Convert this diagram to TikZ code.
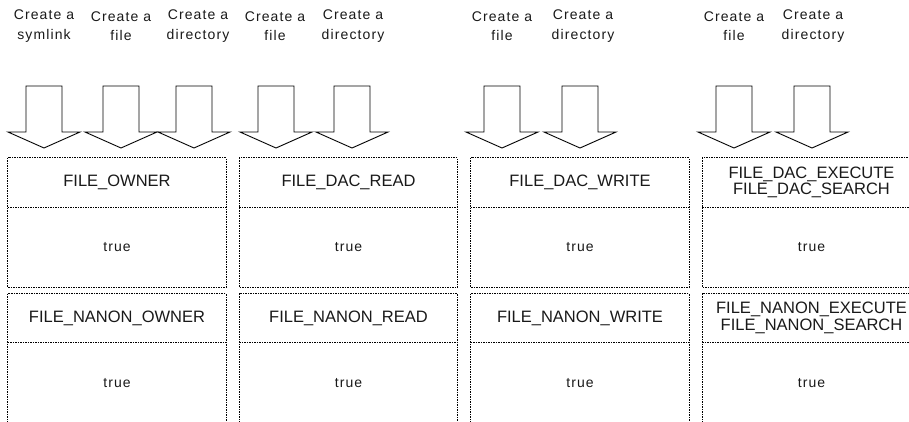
\documentclass[tikz,border=0pt]{standalone}
\usepackage{fontspec}
\setmainfont{Liberation Sans}
\newfontfamily\lblfont{Liberation Sans}[LetterSpace=8]
\begin{document}
\begin{tikzpicture}[x=1pt,y=-1pt,
  lbl/.style={align=center,font=\lblfont\fontsize{14}{19.5}\selectfont,inner sep=0pt,text=black!90},
  dotline/.style={dash pattern=on 1.5pt off 1pt,line width=0.8pt},
  hdr/.style={minimum width=218pt,inner sep=0pt,align=center,text=black!90,font=\fontsize{16.5}{16.5}\selectfont},
  bodybox/.style={hdr,font=\lblfont\fontsize{14}{16}\selectfont},
  barrow/.pic={\draw[line width=0.9pt,line join=miter] (-18,0) -- (18,0) -- (18,46) -- (36,46) -- (0,62) -- (-36,46) -- (-18,46) -- cycle;}]
\useasboundingbox (0,0) rectangle (909,421);
\clip (0,0) rectangle (909,421);
% labels
\node[lbl] (l1) at (44,26) {Create a\\symlink};
\node[lbl] (l2) at (121,26) {Create a\\file};
\node[lbl] (l3) at (198,26) {Create a\\directory};
\node[lbl] (l4) at (275,26) {Create a\\file};
\node[lbl] (l5) at (353,26) {Create a\\directory};
\node[lbl] (l6) at (502,26) {Create a\\file};
\node[lbl] (l7) at (583,26) {Create a\\directory};
\node[lbl] (l8) at (734,26) {Create a\\file};
\node[lbl] (l9) at (813,26) {Create a\\directory};
% block arrows
\foreach \ax in {44,121,194,276,352,502,580,734,812}
  \pic at (\ax,86) {barrow};
% column 1
\node[hdr,minimum height=49pt] (h1) at (117,182.5) {FILE\_OWNER};
\node[bodybox,minimum height=80pt] (b1) at (117,247) {true};
\node[hdr,minimum height=48pt] (n1) at (117,318) {FILE\_NANON\_OWNER};
\node[bodybox,minimum height=82pt] (c1) at (117,383) {true};
% column 2
\node[hdr,minimum height=49pt] (h2) at (348.5,182.5) {FILE\_DAC\_READ};
\node[bodybox,minimum height=80pt] (b2) at (348.5,247) {true};
\node[hdr,minimum height=48pt] (n2) at (348.5,318) {FILE\_NANON\_READ};
\node[bodybox,minimum height=82pt] (c2) at (348.5,383) {true};
% column 3
\node[hdr,minimum height=49pt] (h3) at (580,182.5) {FILE\_DAC\_WRITE};
\node[bodybox,minimum height=80pt] (b3) at (580,247) {true};
\node[hdr,minimum height=48pt] (n3) at (580,318) {FILE\_NANON\_WRITE};
\node[bodybox,minimum height=82pt] (c3) at (580,383) {true};
% column 4
\node[hdr,minimum height=49pt] (h4) at (811.5,182.5) {FILE\_DAC\_EXECUTE\\FILE\_DAC\_SEARCH};
\node[bodybox,minimum height=80pt] (b4) at (811.5,247) {true};
\node[hdr,minimum height=48pt] (n4) at (811.5,318) {FILE\_NANON\_EXECUTE\\FILE\_NANON\_SEARCH};
\node[bodybox,minimum height=82pt] (c4) at (811.5,383) {true};
% dotted frames
\foreach \i in {1,2,3,4}{
  \draw[dotline] (h\i.north west) rectangle (b\i.south east);
  \draw[dotline] (h\i.south west) -- (h\i.south east);
  \draw[dotline] (n\i.north west) rectangle (c\i.south east);
  \draw[dotline] (n\i.south west) -- (n\i.south east);
}
\end{tikzpicture}
\end{document}
